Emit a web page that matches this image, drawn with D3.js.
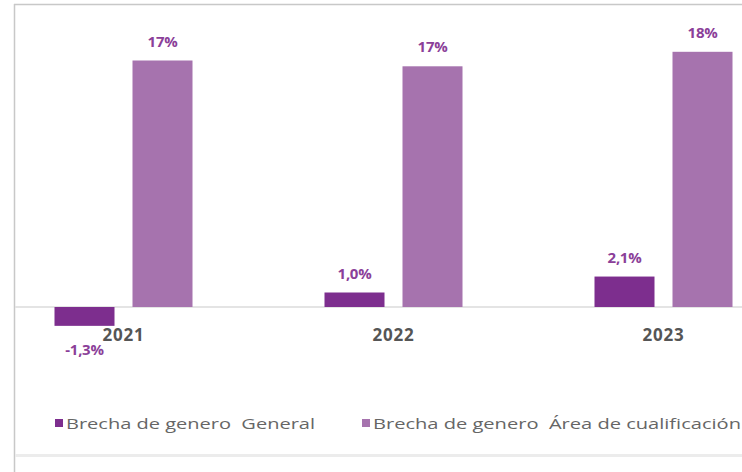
<!DOCTYPE html>
<html><head><meta charset="utf-8">
<script src="https://cdn.jsdelivr.net/npm/d3@7"></script>
<style>html,body{margin:0;padding:0;background:#fff;}svg{display:block;}</style>
</head><body>
<script>
const years = ["2021", "2022", "2023"];
const seriesNames = ["Brecha de genero  General", "Brecha de genero  Área de cualificación"];
const general = [-1.3, 1.0, 2.1];
const area = [17.0, 16.6, 17.6];
const colors = ["#7d2e8e", "#a673ae"];

const W = 742, H = 472;
const svg = d3.select("body").append("svg").attr("width", W).attr("height", H);

// frame
svg.append("line").attr("x1", 14.5).attr("x2", 14.5).attr("y1", 4).attr("y2", H).attr("stroke", "#c8c8c8").attr("stroke-width", 1.5);
svg.append("line").attr("x1", 14).attr("x2", W).attr("y1", 4.5).attr("y2", 4.5).attr("stroke", "#c8c8c8").attr("stroke-width", 1.5);
svg.append("rect").attr("x", 15).attr("y", 454).attr("width", W - 15).attr("height", 3).attr("fill", "#ececec");

const x0 = d3.scaleBand().domain(years).range([-11.5, 798.5]).paddingInner(0).paddingOuter(0);
const x1 = d3.scaleBand().domain([0, 1]).range([0, 138]).paddingInner(0.2308).paddingOuter(0);
const y = d3.scaleLinear().domain([-2, 18]).range([336, 46]);

// zero line
svg.append("line").attr("x1", 15).attr("x2", W).attr("y1", y(0)).attr("y2", y(0)).attr("stroke", "#e4e4e4").attr("stroke-width", 2);

const data = years.map((yr, i) => ({ yr, vals: [general[i], area[i]] }));
const groups = svg.selectAll("g.grp").data(data).enter().append("g")
  .attr("transform", d => `translate(${x0(d.yr) + x0.bandwidth() / 2 - 69},0)`);

groups.selectAll("rect").data(d => d.vals.map((v, k) => ({ v, k }))).enter().append("rect")
  .attr("x", d => x1(d.k)).attr("width", x1.bandwidth())
  .attr("y", d => y(Math.max(0, d.v))).attr("height", d => Math.abs(y(d.v) - y(0)))
  .attr("fill", d => colors[d.k]);

const fmt = d => d.k === 0 ? d.v.toFixed(1).replace(".", ",") + "%" : Math.round(d.v) + "%";
groups.selectAll("text.val").data(d => d.vals.map((v, k) => ({ v, k }))).enter().append("text")
  .attr("class", "val")
  .attr("x", d => x1(d.k) + x1.bandwidth() / 2)
  .attr("y", d => d.v >= 0 ? y(d.v) - 14 : y(d.v) + 29)
  .attr("text-anchor", "middle")
  .attr("font-family", "Open Sans, sans-serif").attr("font-weight", 700).attr("font-size", 15)
  .attr("fill", "#8b3f99")
  .attr("letter-spacing", "-0.3")
  .text(fmt);

// category labels
svg.selectAll("text.cat").data(years).enter().append("text")
  .attr("class", "cat")
  .attr("x", d => x0(d) + x0.bandwidth() / 2)
  .attr("y", 341)
  .attr("text-anchor", "middle")
  .attr("font-family", "Open Sans, sans-serif").attr("font-weight", 700).attr("font-size", 17)
  .attr("fill", "#555")
  .attr("letter-spacing", "0.8")
  .text(d => d);

// legend
const legX = [55, 362];
const legW = [249, 368];
seriesNames.forEach((n, i) => {
  svg.append("rect").attr("x", legX[i]).attr("y", 419).attr("width", 8).attr("height", 8).attr("fill", colors[i]);
  svg.append("text").attr("x", legX[i] + 11).attr("y", 428.5)
    .attr("font-family", "Open Sans, sans-serif").attr("font-size", 14.5).attr("fill", "#666")
    .attr("textLength", legW[i]).attr("lengthAdjust", "spacingAndGlyphs")
    .attr("xml:space", "preserve")
    .style("white-space", "pre")
    .text(n);
});
</script>
</body></html>
